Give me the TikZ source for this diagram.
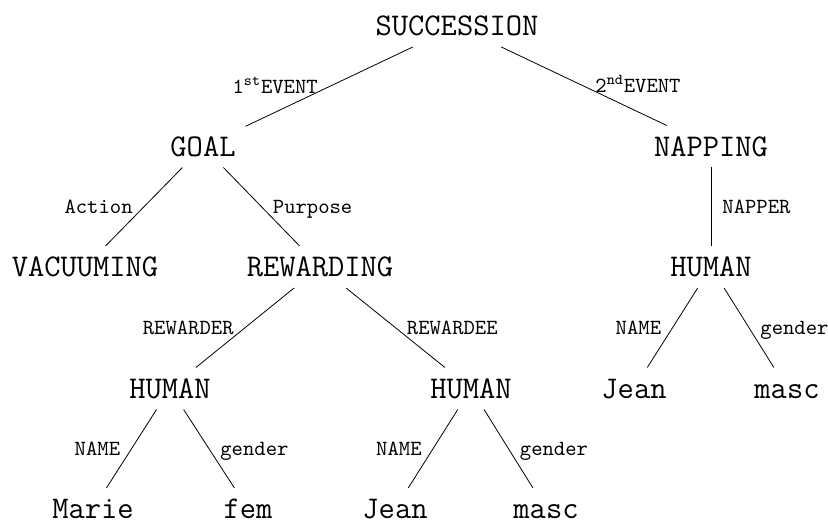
\documentclass[tikz,border=0pt]{standalone}
\usepackage{fontspec}
\usepackage{tikz}
\usetikzlibrary{positioning}

\begin{document}
\begin{tikzpicture}[
    x=0.5pt, y=-0.5pt,
    concept/.style={rectangle, inner sep=4.8pt, text height=10.3pt, text depth=0.7pt, font=\ttfamily\fontsize{15.8}{19}\selectfont},
    role/.style={inner sep=0pt, text height=7.6pt, text depth=1pt, font=\ttfamily\fontsize{10.8}{13}\selectfont},
    roleL/.style={role, anchor=east, xshift=-5.5pt},
    roleR/.style={role, anchor=west, xshift=5.5pt},
    link/.style={draw=black, line width=0.4pt}
]
\useasboundingbox (0,0) rectangle (828,523);

\node (succ) [concept] at (457,26) {SUCCESSION};
\node (goal) [concept] at (203,146.5) {GOAL};
\node (nap) [concept] at (711,146.5) {NAPPING};
\node (vac) [concept] at (85,267) {VACUUMING};
\node (rew) [concept] at (320,267) {REWARDING};
\node (napper) [concept] at (711,267) {HUMAN};
\node (rewarder) [concept] at (170,388.5) {HUMAN};
\node (rewardee) [concept] at (471,388.5) {HUMAN};
\node (napname) [concept] at (634,388.5) {Jean};
\node (napgen) [concept] at (787,388.5) {masc};
\node (rername) [concept] at (93,509) {Marie};
\node (rergen) [concept] at (248,509) {fem};
\node (reename) [concept] at (395,509) {Jean};
\node (reegen) [concept] at (546,509) {masc};

\draw [link] (succ) -- node[roleL] {1\textsuperscript{st}EVENT} (goal);
\draw [link] (succ) -- node[roleR] {2\textsuperscript{nd}EVENT} (nap);
\draw [link] (goal) -- node[roleL] {Action} (vac);
\draw [link] (goal) -- node[roleR] {Purpose} (rew);
\draw [link] (nap) -- node[roleR] {NAPPER} (napper);
\draw [link] (rew) -- node[roleL] {REWARDER} (rewarder);
\draw [link] (rew) -- node[roleR] {REWARDEE} (rewardee);
\draw [link] (napper) -- node[roleL] {NAME} (napname);
\draw [link] (napper) -- node[roleR] {gender} (napgen);
\draw [link] (rewarder) -- node[roleL] {NAME} (rername);
\draw [link] (rewarder) -- node[roleR] {gender} (rergen);
\draw [link] (rewardee) -- node[roleL] {NAME} (reename);
\draw [link] (rewardee) -- node[roleR] {gender} (reegen);

\end{tikzpicture}
\end{document}
